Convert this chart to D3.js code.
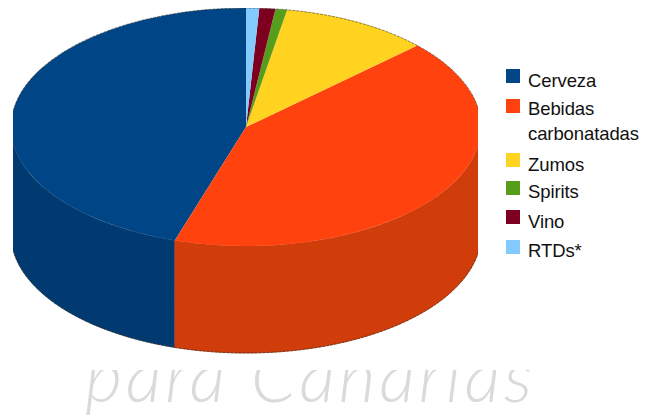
<!DOCTYPE html>
<html><head><meta charset="utf-8">
<script src="https://cdn.jsdelivr.net/npm/d3@7"></script>
<style>html,body{margin:0;padding:0;background:#fff}svg{display:block}</style>
</head><body><svg id="c" width="648" height="419"></svg>
<script>
const categories=["Cerveza","Bebidas carbonatadas","Zumos","Spirits","Vino","RTDs*"];
const values=[45.1,41.9,10.2,0.8,1.1,0.9];
const topColors=["#004586","#ff420e","#ffd320","#579d1c","#7e0021","#83caff"];
const sideColors=["#003a70","#d03c0a","#d6b01a","#487f16","#69001b","#6da8d4"];
const legendLines=[["Cerveza"],["Bebidas","carbonatadas"],["Zumos"],["Spirits"],["Vino"],["RTDs*"]];
const legendBoxY=[69,99,153,181,210,240];
const legendTextY=[[87],[115,140],[171],[198],[228],[257]];

const W=648,H=419,cx=246,cy=127,rx=235,ry=119,depth=107;
const svg=d3.select("#c");

// watermark behind the chart image
svg.append("text").attr("x",85).attr("y",402)
  .attr("font-family","Lato").attr("font-weight",300).attr("font-style","italic")
  .attr("font-size",72).attr("letter-spacing",3.5).attr("fill","#d9dadb").text("para Canarias");
svg.append("rect").attr("x",0).attr("y",0).attr("width",W).attr("height",370).attr("fill","#fff");

svg.append("defs").append("clipPath").attr("id","clip").append("rect")
  .attr("x",13).attr("y",8).attr("width",465).attr("height",346);
const g=svg.append("g").attr("clip-path","url(#clip)");

const pie=d3.pie().sort(null).startAngle(2*Math.PI).endAngle(0);
const arcs=pie(values);
const px=a=>cx+rx*Math.sin(a), py=a=>cy-ry*Math.cos(a);

// side walls: only the front half of the cylinder is visible
const lineGen=d3.line();
arcs.forEach((d,i)=>{
  const a0=Math.max(d.endAngle,Math.PI/2), a1=Math.min(d.startAngle,3*Math.PI/2);
  if(a1<=a0) return;
  const as=d3.range(a0,a1,0.01).concat([a1]);
  const topEdge=as.map(a=>[px(a),py(a)]);
  const botEdge=as.slice().reverse().map(a=>[px(a),py(a)+depth]);
  g.append("path").attr("d",lineGen(topEdge.concat(botEdge))+"Z")
    .attr("fill",sideColors[i]).attr("stroke",sideColors[i]).attr("stroke-width",0.6);
  g.append("path").attr("d",lineGen(botEdge)).attr("fill","none")
    .attr("stroke","#2a1a10").attr("stroke-width",1).attr("stroke-opacity",0.6).attr("stroke-dasharray","3 1");
});

// top surface
const arcGen=d3.arc().innerRadius(0).outerRadius(rx);
const topFace=g.append("g").attr("transform",`translate(${cx},${cy}) scale(1,${ry/rx})`);
topFace.selectAll("path").data(arcs).join("path").attr("d",arcGen).attr("fill",(d,i)=>topColors[i]);

// dark jagged rim along the back edge of the top surface
const back=d3.range(-Math.PI/2,Math.PI/2,0.01).map(a=>[px(a),py(a)]);
g.append("path").attr("d",lineGen(back)).attr("fill","none")
  .attr("stroke","#1a1a10").attr("stroke-width",1).attr("stroke-opacity",0.5).attr("stroke-dasharray","3 1");

// legend
const lg=svg.append("g").attr("font-family","Liberation Sans, Arial, sans-serif")
  .attr("font-size",18.5).attr("fill","#111").attr("letter-spacing",-0.1);
categories.forEach((c,i)=>{
  lg.append("rect").attr("x",506).attr("y",legendBoxY[i]).attr("width",14).attr("height",14).attr("fill",topColors[i]);
  legendLines[i].forEach((t,j)=>lg.append("text").attr("x",528).attr("y",legendTextY[i][j]).text(t));
});
</script></body></html>
